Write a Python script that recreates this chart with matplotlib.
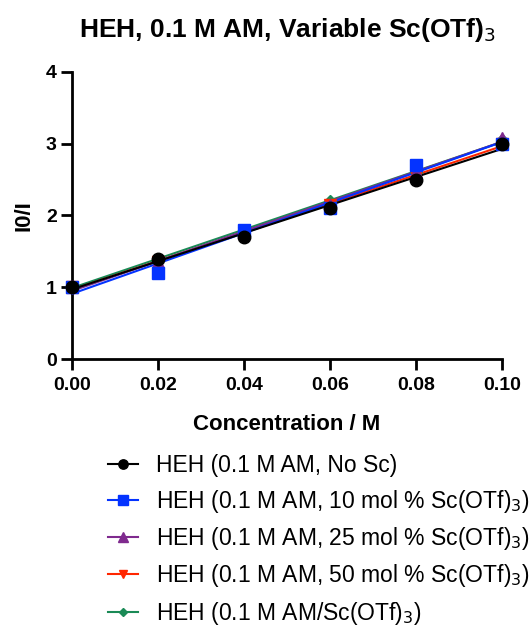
import numpy as np
import matplotlib
matplotlib.use("Agg")
import matplotlib.pyplot as plt

plt.rcParams['font.family'] = ['Liberation Sans', 'DejaVu Sans']

conc = [0.0, 0.02, 0.04, 0.06, 0.08, 0.10]
no_sc = [1.0, 1.4, 1.7, 2.1, 2.5, 3.0]
sc10 = [1.0, 1.2, 1.8, 2.1, 2.7, 3.0]
sc25 = [1.0, 1.35, 1.75, 2.15, 2.6, 3.08]
sc50 = [1.0, 1.35, 1.75, 2.15, 2.55, 3.0]
am_sc = [1.0, 1.4, 1.8, 2.2, 2.6, 3.05]

labels = ["HEH (0.1 M AM, No Sc)",
          "HEH (0.1 M AM, 10 mol % Sc(OTf)$_3$)",
          "HEH (0.1 M AM, 25 mol % Sc(OTf)$_3$)",
          "HEH (0.1 M AM, 50 mol % Sc(OTf)$_3$)",
          "HEH (0.1 M AM/Sc(OTf)$_3$)"]
colors = ["black", "#0433FF", "#7F2A8E", "#FF2600", "#1A8A56"]
markers = ["o", "s", "^", "v", "D"]
sizes = [9, 9, 9, 8, 6]

fig = plt.figure(figsize=(5.31, 6.31), dpi=100)
ax = fig.add_axes([0.1356, 0.431, 0.81, 0.455])

series = [no_sc, sc10, sc25, sc50, am_sc]
xfit = np.array([0.0, 0.1])
# draw back to front so black ends on top
handles = []
for ys, c, m, s, lab in reversed(list(zip(series, colors, markers, sizes, labels))):
    k, b = np.polyfit(conc, ys, 1)
    ax.plot(xfit, k * xfit + b, color=c, lw=1.5, zorder=3)
    ax.plot(conc, ys, ls="none", marker=m, color=c, ms=s, zorder=4, clip_on=False)

for c, m, s, lab in zip(colors, markers, sizes, labels):
    h, = ax.plot([], [], color=c, marker=m, ms=s * 0.75, lw=1.5, label=lab)
    handles.append(h)

ax.set_xlim(0, 0.1)
ax.set_ylim(0, 4)
ax.set_xticks(conc)
ax.set_xticklabels(["0.00", "0.02", "0.04", "0.06", "0.08", "0.10"])
ax.set_yticks([0, 1, 2, 3, 4])
for sp in ["top", "right"]:
    ax.spines[sp].set_visible(False)
for sp in ["left", "bottom"]:
    ax.spines[sp].set_linewidth(2)
ax.tick_params(width=2, length=8, labelsize=14, direction="out", pad=3)
ax.tick_params(axis="x", pad=5)
for t in ax.get_xticklabels() + ax.get_yticklabels():
    t.set_fontweight("bold")

ax.set_xlabel("Concentration / M", fontsize=16, fontweight="bold", labelpad=14)
ax.set_ylabel("I0/I", fontsize=16, fontweight="bold", labelpad=8)
fig.text(0.542, 0.952, "HEH, 0.1 M AM, Variable Sc(OTf)$_3$", ha="center", va="center",
         fontsize=19, fontweight="bold")

fig.legend(handles=handles, loc="upper left", bbox_to_anchor=(0.195, 0.287),
           frameon=False, fontsize=16.5, handlelength=1.3, labelspacing=0.45,
           borderaxespad=0, borderpad=0.2, handletextpad=0.78)

fig.savefig("out.png", dpi=100)
